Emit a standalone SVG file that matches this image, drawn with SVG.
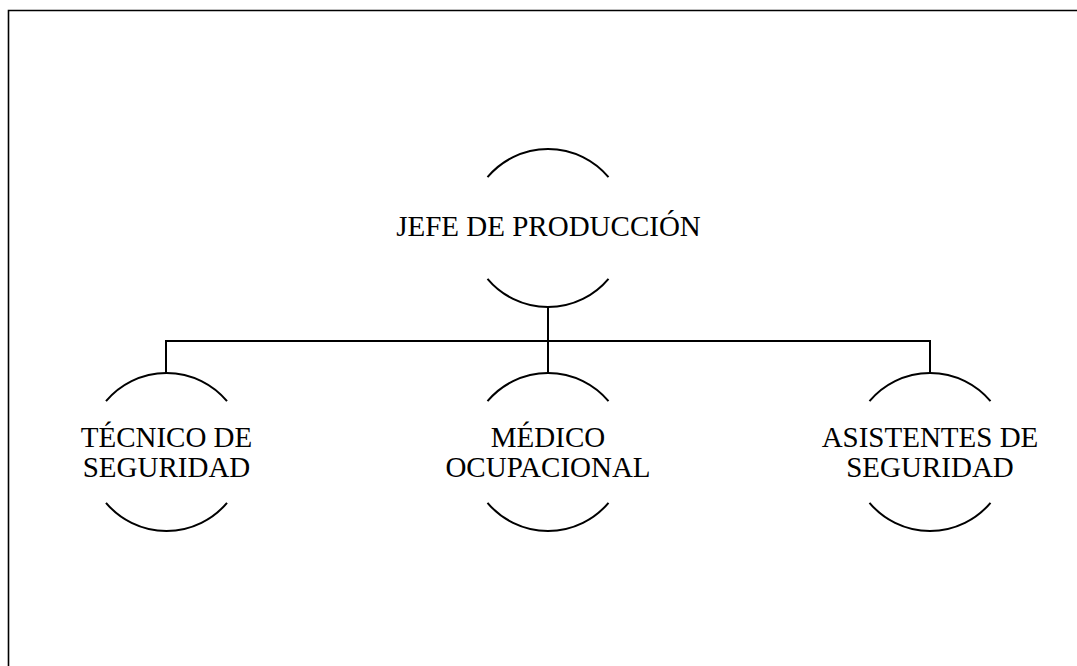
<svg xmlns="http://www.w3.org/2000/svg" width="1077" height="666" viewBox="0 0 1077 666">
<style>
.arc{fill:none;stroke:#000;stroke-width:2}
.ln{fill:none;stroke:#000;stroke-width:2}
.t{font-family:"Liberation Serif","Times New Roman",serif;font-size:29px;fill:#000;text-anchor:middle}
</style>
<rect width="1077" height="666" fill="#fff"/>
<path d="M8.5,666 V10.5 H1077" fill="none" stroke="#000" stroke-width="1.6"/>
<g id="connectors">
<path class="ln" d="M548,307 V341"/>
<path class="ln" d="M166,373 V341 H930 V373"/>
<path class="ln" d="M548,341 V373"/>
</g>
<g id="jefe">
<path class="arc" d="M487.5,177.2 A79,79 0 0 1 608.5,177.2"/>
<path class="arc" d="M487.5,278.8 A79,79 0 0 0 608.5,278.8"/>
<text class="t" x="548.5" y="236">JEFE DE PRODUCCIÓN</text>
</g>
<g id="tecnico">
<path class="arc" d="M106,401.2 A79,79 0 0 1 227,401.2"/>
<path class="arc" d="M106,502.8 A79,79 0 0 0 227,502.8"/>
<text class="t" x="166.5" y="447">TÉCNICO DE</text>
<text class="t" x="166.5" y="477">SEGURIDAD</text>
</g>
<g id="medico">
<path class="arc" d="M487.5,401.2 A79,79 0 0 1 608.5,401.2"/>
<path class="arc" d="M487.5,502.8 A79,79 0 0 0 608.5,502.8"/>
<text class="t" x="548" y="447">MÉDICO</text>
<text class="t" x="548" y="477">OCUPACIONAL</text>
</g>
<g id="asistentes">
<path class="arc" d="M869.5,401.2 A79,79 0 0 1 990.5,401.2"/>
<path class="arc" d="M869.5,502.8 A79,79 0 0 0 990.5,502.8"/>
<text class="t" x="930" y="447">ASISTENTES DE</text>
<text class="t" x="930" y="477">SEGURIDAD</text>
</g>
</svg>
